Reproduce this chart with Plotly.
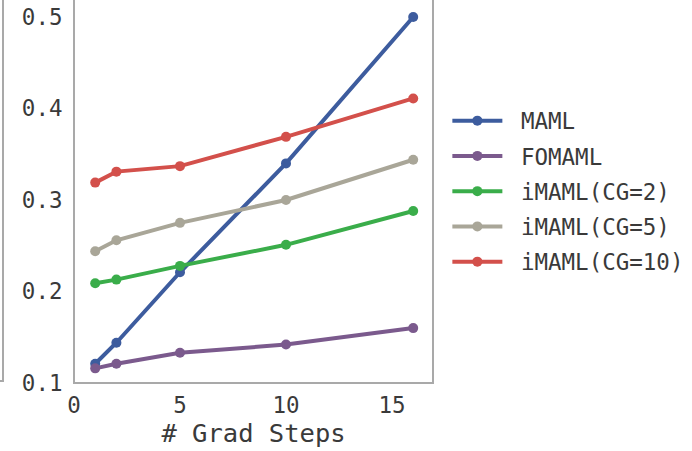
import plotly.graph_objects as go

# Inner gradient steps used for adaptation
grad_steps = [1, 2, 5, 10, 16]

# Compute (relative) for each method
maml = [0.121, 0.144, 0.221, 0.340, 0.500]
fomaml = [0.116, 0.121, 0.133, 0.142, 0.160]
imaml_cg2 = [0.209, 0.213, 0.228, 0.251, 0.288]
imaml_cg5 = [0.244, 0.256, 0.275, 0.300, 0.344]
imaml_cg10 = [0.319, 0.331, 0.337, 0.369, 0.411]

series_names = ["MAML", "FOMAML", "iMAML(CG=2)", "iMAML(CG=5)", "iMAML(CG=10)"]
series_values = [maml, fomaml, imaml_cg2, imaml_cg5, imaml_cg10]
series_colors = ["#3d5c9e", "#7b5a8d", "#3aad4a", "#a9a698", "#d3504b"]

x_ticks = [0, 5, 10, 15]
y_ticks = [0.1, 0.2, 0.3, 0.4, 0.5]

MONO = "DejaVu Sans Mono"
FRAME = "#a9a9a9"
TXT = "#3a3a3a"

fig = go.Figure()
for i, (name, vals, col) in enumerate(zip(series_names, series_values, series_colors)):
    fig.add_trace(go.Scatter(
        x=grad_steps, y=vals, name=" " + name, mode="lines+markers",
        legendgroup=f"g{i}",
        line=dict(color=col, width=4),
        marker=dict(color=col, size=10),
        cliponaxis=False,
    ))

W, H = 692, 451
L, R, T, B = 74, 433, 0, 383

fig.update_layout(
    width=W, height=H,
    margin=dict(l=L, r=W - R, t=T, b=H - B, pad=0),
    paper_bgcolor="white", plot_bgcolor="white",
    font=dict(family=MONO, size=22, color=TXT),
    showlegend=True,
    legend=dict(
        x=1.04, y=0.50, xanchor="left", yanchor="middle",
        font=dict(family=MONO, size=22.5, color=TXT),
        itemwidth=50, traceorder="grouped", tracegroupgap=3,
        bgcolor="rgba(0,0,0,0)",
    ),
    xaxis=dict(
        range=[0, (R - L) / 21.2], tickvals=x_ticks,
        showgrid=False, zeroline=False, showline=False,
        ticks="outside", ticklen=2, tickcolor="rgba(0,0,0,0)",
        tickfont=dict(family=MONO, size=22.5, color=TXT),
        title=dict(text="# Grad Steps", standoff=7,
                   font=dict(family=MONO, size=25.5, color=TXT)),
    ),
    yaxis=dict(
        range=[0.1, 0.1 + B / 915.0], tickvals=y_ticks,
        tickformat=".1f",
        showgrid=False, zeroline=False, showline=False,
        ticks="outside", ticklen=6, tickcolor="rgba(0,0,0,0)",
        tickfont=dict(family=MONO, size=22.5, color=TXT),
    ),
)

# Axes frame (top edge runs above the canvas)
fig.add_shape(type="rect", xref="paper", yref="paper",
              x0=0, x1=1, y0=0, y1=1.2,
              line=dict(color=FRAME, width=2), fillcolor="rgba(0,0,0,0)",
              layer="below")

# Edge of the neighbouring panel on the left
pw = R - L
ph = B - T
fig.add_shape(type="path", xref="paper", yref="paper",
              path=f"M {(-10 - L) / pw},1.2 L {(3 - L) / pw},1.2 L {(3 - L) / pw},{(B - 381) / ph} L {(-10 - L) / pw},{(B - 381) / ph}",
              line=dict(color=FRAME, width=2), layer="below")

fig.write_html("out.html")
